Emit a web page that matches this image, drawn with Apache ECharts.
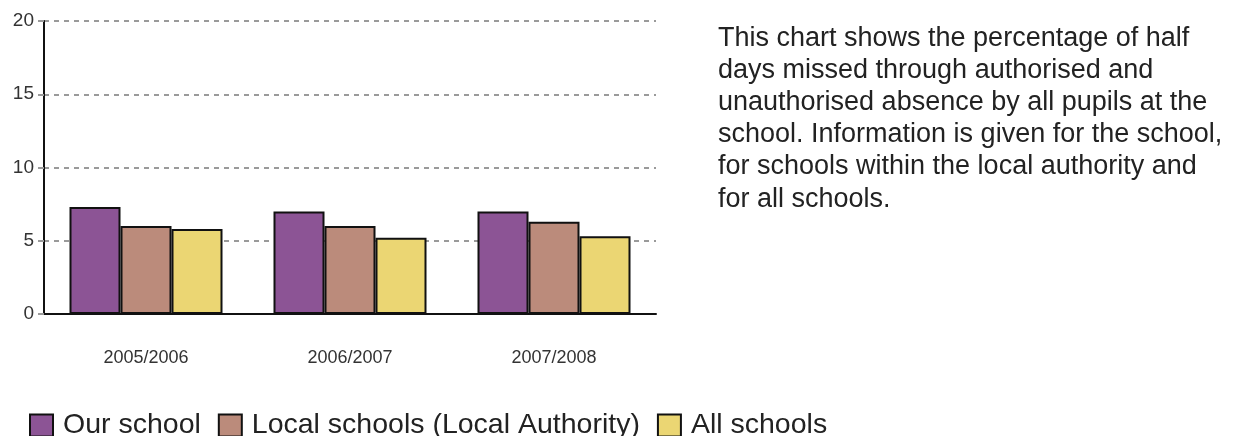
<!DOCTYPE html>
<html>
<head>
<meta charset="utf-8">
<script src="https://cdn.jsdelivr.net/npm/echarts@6/dist/echarts.min.js"></script>
<style>
  html, body { margin: 0; padding: 0; background: #fff; }
  #chart { width: 1253px; height: 436px; }
</style>
</head>
<body>
<div id="chart"></div>
<script>
const years = ['2005/2006', '2006/2007', '2007/2008']
const ourSchool = [7.3, 7.0, 7.0]
const localSchools = [6.0, 6.0, 6.3]
const allSchools = [5.8, 5.2, 5.3]
const yTicks = [0, 5, 10, 15, 20]
const note = 'This chart shows the percentage of half\ndays missed through authorised and\nunauthorised absence by all pupils at the\nschool. Information is given for the school,\nfor schools within the local authority and\nfor all schools.'

const font = '"Liberation Sans", Arial, sans-serif'
const barBorder = { borderColor: '#111', borderWidth: 2 }

const chart = echarts.init(document.getElementById('chart'))
chart.setOption({
  animation: false,
  textStyle: { fontFamily: font },
  grid: { left: 44, top: 21, width: 612, height: 293, containLabel: false },
  legend: {
    left: 24,
    top: 406,
    itemWidth: 23,
    itemHeight: 22,
    itemGap: 17,
    icon: 'rect',
    textStyle: { fontSize: 28.5, color: '#222', fontFamily: font, padding: [2, 0, 0, 5] },
    data: ['Our school', 'Local schools (Local Authority)', 'All schools']
  },
  xAxis: {
    type: 'category',
    data: years,
    axisLine: { lineStyle: { color: '#111', width: 2 } },
    axisTick: { alignWithLabel: true, length: 8, lineStyle: { color: '#111', width: 2 } },
    axisLabel: { fontSize: 18, color: '#333', margin: 35 }
  },
  yAxis: {
    type: 'value',
    min: yTicks[0],
    max: yTicks[yTicks.length - 1],
    interval: 5,
    axisLine: { show: true, lineStyle: { color: '#111', width: 2 } },
    axisTick: { show: true, length: 6, lineStyle: { color: '#9a9a9a', width: 2 } },
    axisLabel: { fontSize: 19, color: '#333', margin: 10 },
    splitLine: { lineStyle: { color: '#9a9a9a', width: 2, type: [5, 5] } }
  },
  series: [
    {
      name: 'Our school', type: 'bar', data: ourSchool,
      barGap: '0%', barCategoryGap: '25%',
      itemStyle: Object.assign({ color: '#8c5495' }, barBorder)
    },
    {
      name: 'Local schools (Local Authority)', type: 'bar', data: localSchools,
      itemStyle: Object.assign({ color: '#bb8b7b' }, barBorder)
    },
    {
      name: 'All schools', type: 'bar', data: allSchools,
      itemStyle: Object.assign({ color: '#ebd673' }, barBorder)
    }
  ],
  graphic: [{
    type: 'text',
    left: 718,
    top: 22,
    style: {
      text: note,
      fontSize: 27,
      lineHeight: 32.2,
      fill: '#222',
      fontFamily: font
    }
  }]
})
</script>
</body>
</html>
